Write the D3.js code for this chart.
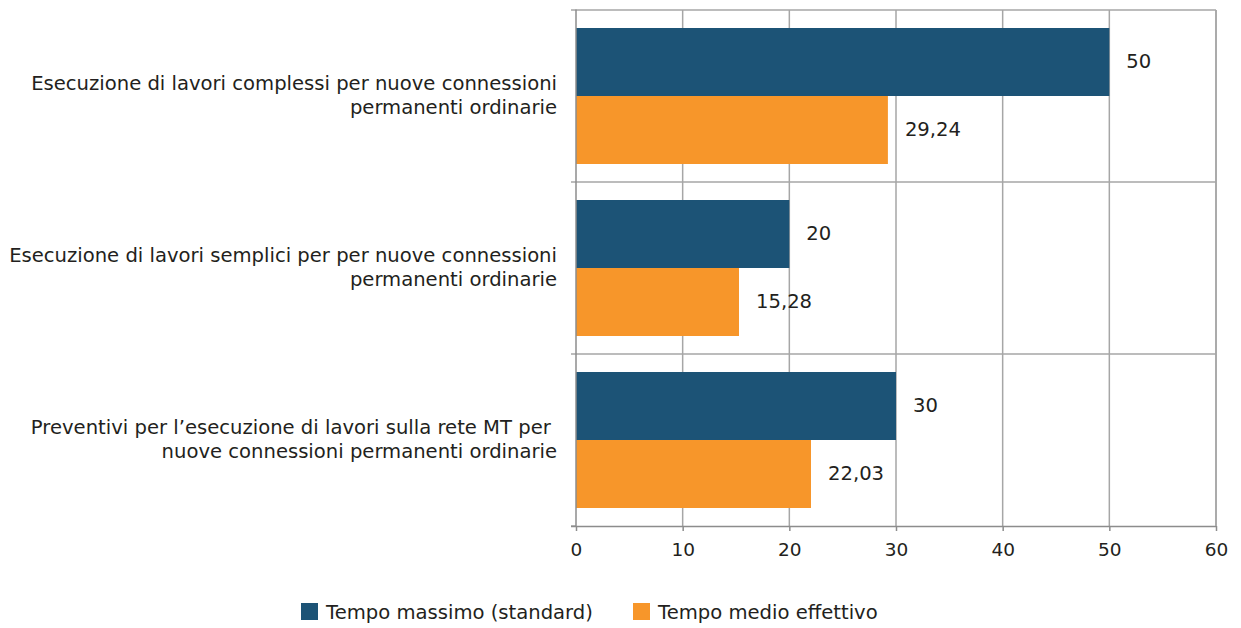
<!DOCTYPE html>
<html><head><meta charset="utf-8">
<script src="https://cdn.jsdelivr.net/npm/d3@7"></script>
<style>
body{margin:0;background:#fff;}
text{font-family:"DejaVu Sans",sans-serif;fill:#231f20;}
</style></head>
<body><svg id="c" width="1241" height="628"></svg>
<script>
const categories = [
  ["Esecuzione di lavori complessi per nuove connessioni", "permanenti ordinarie"],
  ["Esecuzione di lavori semplici per per nuove connessioni", "permanenti ordinarie"],
  ["Preventivi per l\u2019esecuzione di lavori sulla rete MT per\u00a0", "nuove connessioni permanenti ordinarie"]
];
const seriesNames = ["Tempo massimo (standard)", "Tempo medio effettivo"];
const tempoMassimo = [50, 20, 30];
const tempoMedio = [29.24, 15.28, 22.03];
const xTicks = [0, 10, 20, 30, 40, 50, 60];
const colors = ["#1c5376", "#f7962a"];

const FS = 19.6;
const svg = d3.select("#c");
const L = 576, R = 1216, T = 10, B = 526;
const x = d3.scaleLinear().domain([0, 60]).range([L, R]);
const y = d3.scaleBand().domain(d3.range(categories.length)).range([T, B]);
const inner = d3.scaleBand().domain([0, 1]).range([0, y.bandwidth()]).paddingOuter(0.2647).paddingInner(0);
const grid = "#a6a6a6";

// vertical gridlines
svg.append("g").selectAll("line").data(xTicks.slice(1)).join("line")
  .attr("x1", d => x(d)).attr("x2", d => x(d)).attr("y1", T).attr("y2", B)
  .attr("stroke", grid).attr("stroke-width", 1.5);
// horizontal gridlines at band boundaries
const bounds = [T, ...d3.range(1, categories.length).map(i => y(i))];
svg.append("g").selectAll("line").data(bounds).join("line")
  .attr("x1", L - 5).attr("x2", R).attr("y1", d => d).attr("y2", d => d)
  .attr("stroke", grid).attr("stroke-width", 1.5);
svg.append("line").attr("x1", L - 5).attr("x2", L).attr("y1", B).attr("y2", B)
  .attr("stroke", grid).attr("stroke-width", 1.5);

// bars
const series = [tempoMassimo, tempoMedio];
series.forEach((vals, s) => {
  const g = svg.append("g");
  g.selectAll("rect").data(vals).join("rect")
    .attr("x", x(0)).attr("width", d => x(d) - x(0))
    .attr("y", (d, i) => y(i) + inner(s)).attr("height", inner.bandwidth())
    .attr("fill", colors[s]);
  g.selectAll("text").data(vals).join("text")
    .attr("x", d => x(d) + 17).attr("y", (d, i) => y(i) + inner(s) + inner.bandwidth() / 2 - 1)
    .attr("dy", "0.35em").attr("font-size", FS)
    .text(d => d3.format(",.2~f")(d).replace(".", ","));
});

// x axis
const xa = svg.append("g").attr("transform", `translate(0,${B})`)
  .call(d3.axisBottom(x).tickValues(xTicks).tickSize(5).tickPadding(12).tickFormat(d3.format("d")));
xa.select(".domain").attr("stroke", "#8c8c8c").attr("stroke-width", 1.5).attr("d", `M${L-5},0.5H${R}`);
xa.selectAll(".tick line").attr("stroke", "#8c8c8c").attr("stroke-width", 1.5);
xa.selectAll(".tick text").attr("font-size", 18.5).attr("font-family", "DejaVu Sans").attr("fill", "#231f20");

// y axis line
svg.append("line").attr("x1", L).attr("x2", L).attr("y1", T - 0.5).attr("y2", B)
  .attr("stroke", "#8c8c8c").attr("stroke-width", 1.5);
svg.append("line").attr("x1", R).attr("x2", R).attr("y1", T).attr("y2", B)
  .attr("stroke", grid).attr("stroke-width", 1.5);

// category labels
categories.forEach((lines, i) => {
  const cy = y(i) + y.bandwidth() / 2;
  const t = svg.append("text").attr("text-anchor", "end").attr("font-size", FS)
    .attr("x", 557).attr("y", cy - 13);
  lines.forEach((ln, k) => {
    t.append("tspan").attr("x", 557).attr("dy", k === 0 ? "0.35em" : 24).text(ln);
  });
});

// legend
const legX = [301, 633];
seriesNames.forEach((n, s) => {
  svg.append("rect").attr("x", legX[s]).attr("y", 603).attr("width", 17).attr("height", 17).attr("fill", colors[s]);
  svg.append("text").attr("x", legX[s] + 25).attr("y", 612).attr("dy", "0.35em").attr("font-size", FS).text(n);
});
</script></body></html>
